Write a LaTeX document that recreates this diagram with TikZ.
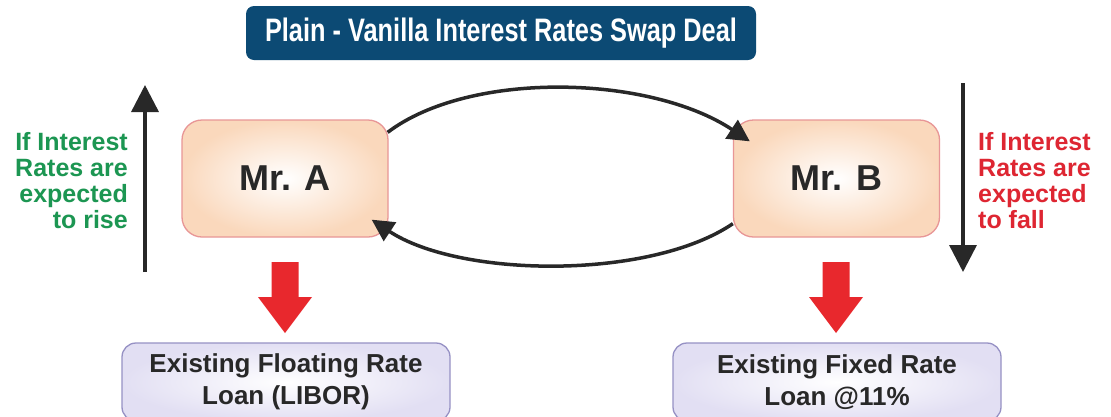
\documentclass[tikz,border=0pt]{standalone}
\usepackage{fontspec}
\setmainfont{Liberation Sans}
\newfontfamily\narrowsans{Liberation Sans}[FakeStretch=0.78]
\usetikzlibrary{arrows.meta,calc}
\definecolor{titleblue}{RGB}{12,74,116}
\definecolor{txtgreen}{RGB}{28,150,82}
\definecolor{txtred}{RGB}{222,38,50}
\definecolor{blockred}{RGB}{232,40,45}
\definecolor{darkline}{RGB}{40,40,40}
\definecolor{peach}{RGB}{250,216,188}
\definecolor{pinkborder}{RGB}{232,150,150}
\definecolor{lavender}{RGB}{226,223,243}
\definecolor{lavborder}{RGB}{150,145,196}
\begin{document}
\begin{tikzpicture}[x=1pt,y=-1pt,
  titlebox/.style={fill=titleblue, rounded corners=8pt, minimum width=510pt, minimum height=54pt,
    inner sep=0pt, text=white, font=\narrowsans\bfseries\fontsize{32.5}{33}\selectfont},
  personbox/.style={draw=pinkborder, line width=1.3pt, rounded corners=20pt, inner color=white,
    outer color=peach, minimum width=206pt, minimum height=117pt, inner sep=0pt,
    text=darkline, font=\bfseries\fontsize{36}{36}\selectfont},
  loanbox/.style={draw=lavborder, line width=1.3pt, rounded corners=14pt, inner color=white,
    outer color=lavender, minimum width=328pt, minimum height=78pt, inner sep=0pt, align=center,
    text=darkline, font=\bfseries\fontsize{26}{32}\selectfont},
  sidetext/.style={align=#1, inner sep=0pt, font=\bfseries\fontsize{25}{26}\selectfont},
  swaparrow/.style={draw=darkline, line width=3.5pt, -{Triangle[length=22pt,width=22pt]}},
  trendarrow/.style={draw=darkline, line width=3.5pt, -{Triangle[length=27pt,width=27pt]}},
  redarr/.pic={\fill[blockred] (-13.5,0) -- (13.5,0) -- (13.5,35) -- (27,35) -- (0,71)
     -- (-27,35) -- (-13.5,35) -- cycle;}
]
\useasboundingbox (0,0) rectangle (1111,416);
\clip (0,0) rectangle (1111,416);
\fill[white] (0,0) rectangle (1111,416);

\node[titlebox] (title) at (501,33) {Plain - Vanilla Interest Rates Swap Deal};

\node[personbox] (A) at (285,178.5) {Mr. A};
\node[personbox] (B) at (836.5,178.5) {Mr. B};

\node[loanbox] (LA) at (286,382) {Existing Floating Rate\\Loan (LIBOR)};
\node[loanbox] (LB) at (837,382) {Existing Fixed Rate\\Loan @11\%};

% swap arrows
\draw[swaparrow] ($(A.north east)+(-1,13)$) .. controls (470,70) and (650,75) .. ($(B.north west)+(17,22)$);
\draw[swaparrow] ($(B.south west)+(0,-14)$) .. controls (650,280) and (460,278) .. ($(A.south east)+(-17,-18)$);

% trend arrows
\coordinate (upS) at (145,272);
\coordinate (upE) at (145,85);
\coordinate (dnS) at (963,83);
\coordinate (dnE) at (963,272);
\draw[trendarrow] (upS) -- (upE);
\draw[trendarrow] (dnS) -- (dnE);

\node[sidetext=right, text=txtgreen, anchor=east] (gtext) at (128,181)
  {If Interest\\Rates are\\expected\\to rise};
\node[sidetext=left, text=txtred, anchor=west] (rtext) at (978,181)
  {If Interest\\Rates are\\expected\\to fall};

% block arrows
\pic at (285,262) {redarr};
\pic at (836,262) {redarr};
\end{tikzpicture}
\end{document}
